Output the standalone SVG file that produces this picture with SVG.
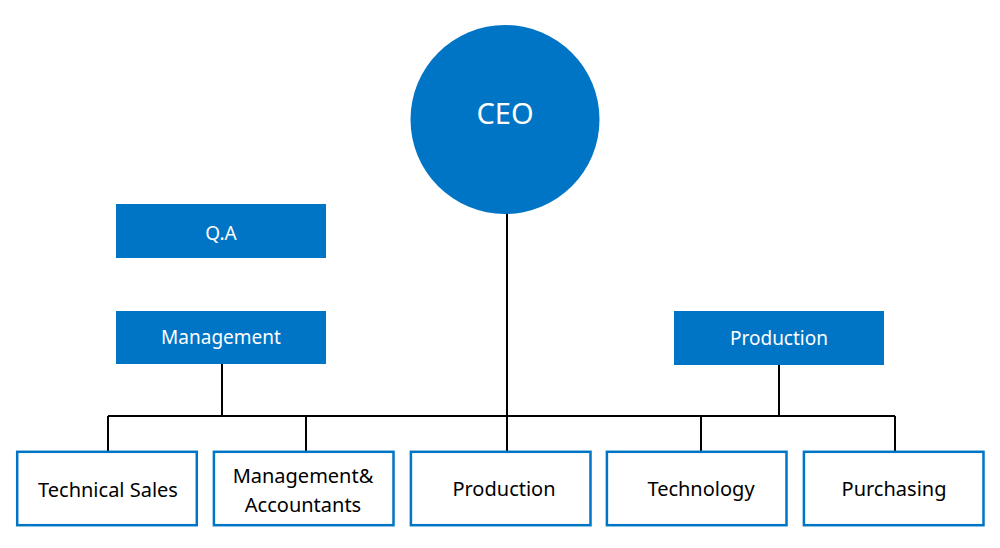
<svg xmlns="http://www.w3.org/2000/svg" width="1000" height="548" viewBox="0 0 1000 548">
<style>
.fill{fill:#0075C5;}
.box{fill:#ffffff;stroke:#0075C5;stroke-width:2.5;}
.wt{fill:#ffffff;font-family:"Noto Sans","Open Sans",sans-serif;font-size:19px;text-anchor:middle;}
.bt{fill:#000000;font-family:"Noto Sans","Open Sans",sans-serif;font-size:20px;text-anchor:middle;}
.ln{stroke:#000000;stroke-width:1.4;fill:none;shape-rendering:crispEdges;}
</style>
<rect width="1000" height="548" fill="#ffffff"/>
<g id="connectors">
<line class="ln" x1="507" y1="213" x2="507" y2="451"/>
<line class="ln" x1="222" y1="364" x2="222" y2="416"/>
<line class="ln" x1="779" y1="365" x2="779" y2="416"/>
<line class="ln" x1="108" y1="416" x2="895" y2="416"/>
<line class="ln" x1="108" y1="416" x2="108" y2="451"/>
<line class="ln" x1="306" y1="416" x2="306" y2="451"/>
<line class="ln" x1="701" y1="416" x2="701" y2="451"/>
<line class="ln" x1="895" y1="416" x2="895" y2="451"/>
</g>
<g id="ceo">
<circle class="fill" cx="505" cy="119.5" r="94.5"/>
<text class="wt" x="505" y="124" style="font-size:29px">CEO</text>
</g>
<g id="qa">
<rect class="fill" x="116" y="204" width="210" height="54"/>
<text class="wt" x="221" y="240">Q.A</text>
</g>
<g id="management">
<rect class="fill" x="116" y="311" width="210" height="53"/>
<text class="wt" x="221" y="344">Management</text>
</g>
<g id="production-top">
<rect class="fill" x="674" y="311" width="210" height="54"/>
<text class="wt" x="779" y="345">Production</text>
</g>
<g id="technical-sales">
<rect class="box" x="17.2" y="451.8" width="179.6" height="73.4"/>
<text class="bt" x="108" y="496.5">Technical Sales</text>
</g>
<g id="management-accountants">
<rect class="box" x="213.9" y="451.8" width="179.6" height="73.4"/>
<text class="bt" x="303" y="483.3">Management&amp;</text>
<text class="bt" x="303" y="511.7">Accountants</text>
</g>
<g id="production">
<rect class="box" x="410.9" y="451.8" width="179.6" height="73.4"/>
<text class="bt" x="504" y="496">Production</text>
</g>
<g id="technology">
<rect class="box" x="606.9" y="451.8" width="179.6" height="73.4"/>
<text class="bt" x="701" y="496">Technology</text>
</g>
<g id="purchasing">
<rect class="box" x="803.9" y="451.8" width="179.6" height="73.4"/>
<text class="bt" x="894" y="496">Purchasing</text>
</g>
</svg>
